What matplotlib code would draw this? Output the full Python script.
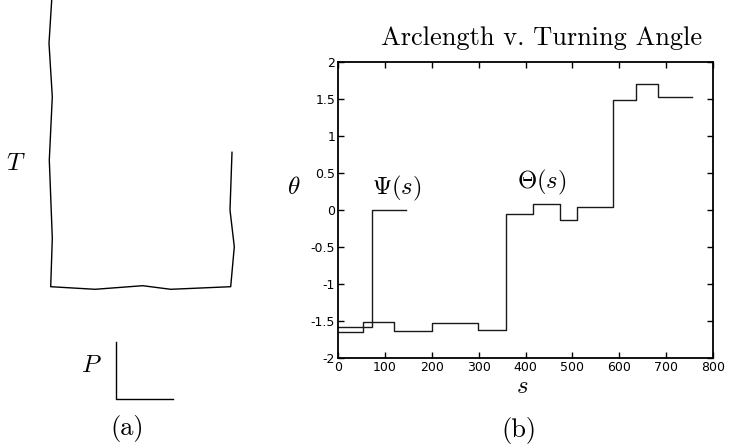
import matplotlib
matplotlib.use("Agg")
import matplotlib.pyplot as plt

plt.rcParams['mathtext.fontset'] = 'cm'
plt.rcParams['axes.formatter.use_mathtext'] = True

# ---------------- data ----------------
# panel (a): polygonal shape (pixel-like units, y down)
shape_x = [51.7, 49.0, 52.3, 49.3, 52.3, 50.7, 95.0, 142.7, 170.7, 230.7, 234.3, 230.0, 232.0]
shape_y = [0.0, 43.3, 96.7, 160.0, 238.3, 286.7, 289.3, 285.7, 289.3, 286.7, 246.7, 210.0, 152.3]
# scale bar (P axis)
bar_x = [115.7, 115.7, 172.7]
bar_y = [342.0, 399.0, 399.0]

# panel (b): turning angle step functions
theta_s = [0, 54, 120, 200, 299, 358, 415, 473, 510, 586, 635, 683, 755]
theta_v = [-1.65, -1.51, -1.635, -1.53, -1.62, -0.06, 0.085, -0.14, 0.036, 1.48, 1.70, 1.53]
psi_s = [0, 72, 145]
psi_v = [-1.577, 0.0]

xticks = [0, 100, 200, 300, 400, 500, 600, 700, 800]
yticks = [-2, -1.5, -1, -0.5, 0, 0.5, 1, 1.5, 2]
yticklabels = ['-2', '-1.5', '-1', '-0.5', '0', '0.5', '1', '1.5', '2']

W, H = 730, 447
fig = plt.figure(figsize=(W / 100, H / 100), dpi=100)

def fx(x):
    return x / W

def fy(y):
    return 1 - y / H

# ---------------- panel (a) ----------------
axa = fig.add_axes([0, 0, 1, 1])
axa.set_xlim(0, W)
axa.set_ylim(H, 0)
axa.axis('off')
axa.plot(shape_x, shape_y, color='black', lw=1.0)
axa.plot(bar_x, bar_y, color='black', lw=1.0)

fig.text(fx(16), fy(163), r'$T$', fontsize=18, ha='center', va='center')
fig.text(fx(91), fy(365), r'$P$', fontsize=18, ha='center', va='center')
fig.text(fx(127), fy(428), '(a)', family='cmr10', fontsize=19, ha='center', va='center')

# ---------------- panel (b) ----------------
L, R, T, B = 338, 713, 62, 358
ax = fig.add_axes([fx(L), fy(B), (R - L) / W, (B - T) / H])
ax.step(theta_s, theta_v + [theta_v[-1]], where='post', color='#1a1a1a', lw=1.0)
ax.step(psi_s, psi_v + [psi_v[-1]], where='post', color='#1a1a1a', lw=1.0)
ax.set_xlim(0, 800)
ax.set_ylim(-2, 2)
ax.set_xticks(xticks)
ax.set_xticklabels([str(t) for t in xticks])
ax.set_yticks(yticks)
ax.set_yticklabels(yticklabels)
ax.tick_params(direction='in', length=4, width=1, top=True, right=True,
               labelsize=9, pad=2)
for sp in ax.spines.values():
    sp.set_linewidth(1.3)

fig.text(fx(542), fy(38), 'Arclength v. Turning Angle', family='cmr10', fontsize=19,
         ha='center', va='center')
fig.text(fx(397), fy(188), r'$\Psi(s)$', fontsize=17.8, ha='center', va='center')
fig.text(fx(542), fy(182), r'$\Theta(s)$', fontsize=17.8, ha='center', va='center')
fig.text(fx(294), fy(187), r'$\theta$', fontsize=18, ha='center', va='center')
fig.text(fx(522), fy(386), r'$s$', fontsize=18, ha='center', va='center')
fig.text(fx(519), fy(431), '(b)', family='cmr10', fontsize=19, ha='center', va='center')

fig.savefig('out.png', dpi=100)
